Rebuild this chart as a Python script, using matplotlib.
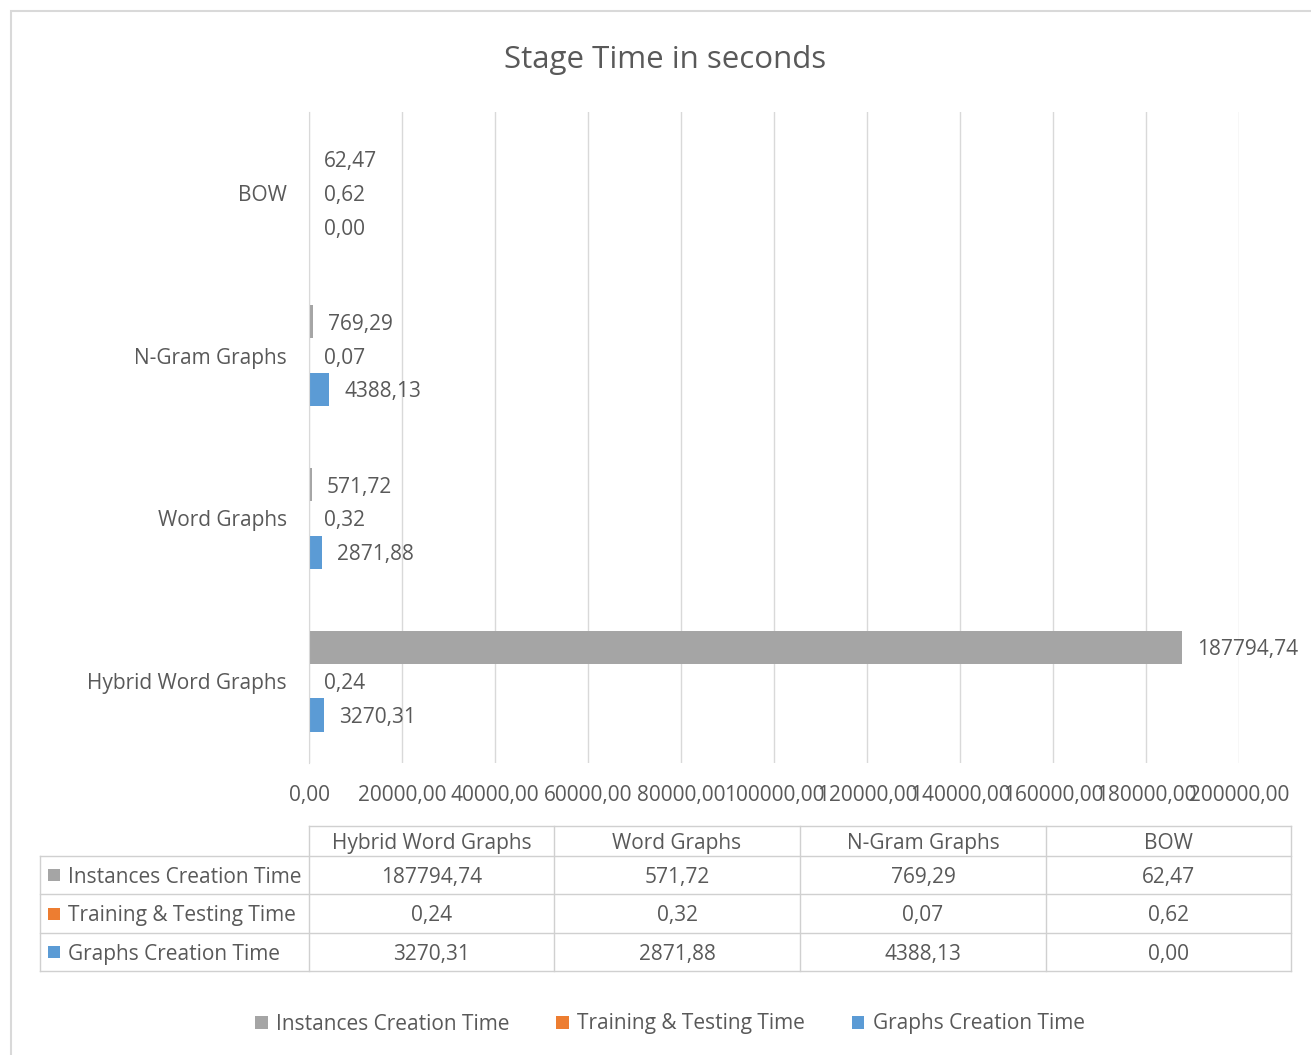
import matplotlib
matplotlib.use("Agg")
import matplotlib.pyplot as plt
from matplotlib.patches import Rectangle
from matplotlib.lines import Line2D
import numpy as np

plt.rcParams['font.family'] = ['Open Sans', 'DejaVu Sans']

# ---------------- data ----------------
categories = ["Hybrid Word Graphs", "Word Graphs", "N-Gram Graphs", "BOW"]
series_names = ["Instances Creation Time", "Training & Testing Time", "Graphs Creation Time"]
instances = [187794.74, 571.72, 769.29, 62.47]
training = [0.24, 0.32, 0.07, 0.62]
graphs = [3270.31, 2871.88, 4388.13, 0.00]
x_ticks = [0, 20000, 40000, 60000, 80000, 100000, 120000, 140000, 160000, 180000, 200000]
title = "Stage Time in seconds"

colors = ["#A5A5A5", "#ED7D31", "#5B9BD5"]
text_color = "#595959"
grid_color = "#D9D9D9"
FS = 15

W, H = 1311, 1055
fig = plt.figure(figsize=(W / 100, H / 100), dpi=100)


def fx(px):
    return px / W


def fy(py):
    return 1 - py / H


def fmt(v):
    return f"{v:.2f}".replace('.', ',')


# outer frame
fig.patches.append(Rectangle((fx(11), fy(1070)), fx(1320) - fx(11), fy(11) - fy(1070),
                             transform=fig.transFigure, fill=False,
                             edgecolor="#D9D9D9", lw=1.5, clip_on=False))

# title
fig.text(fx(665), fy(60), title, ha='center', va='center', fontsize=22.5, color=text_color)

# ---------------- bar chart ----------------
ax_l, ax_r, ax_t, ax_b = 309, 1239, 111.5, 762.5
ax = fig.add_axes([fx(ax_l), fy(ax_b), fx(ax_r) - fx(ax_l), fy(ax_t) - fy(ax_b)])

y = np.arange(len(categories))
off = 0.208
bh = 0.204
all_series = [instances, training, graphs]
offsets = [off, 0, -off]
for vals, o, c in zip(all_series, offsets, colors):
    ax.barh(y + o, vals, height=bh, color=c, edgecolor='none', zorder=3)
    for yy, v in zip(y + o, vals):
        ax.annotate(fmt(v), xy=(v, yy), xytext=(15, 0), textcoords='offset pixels',
                    ha='left', va='center_baseline', fontsize=FS, color=text_color, zorder=4)

ax.set_xlim(x_ticks[0], x_ticks[-1])
ax.set_ylim(-0.5, len(categories) - 0.5)
ax.set_xticks(x_ticks)
ax.set_xticklabels([fmt(t) for t in x_ticks])
ax.set_yticks(y)
ax.set_yticklabels(categories)
ax.tick_params(axis='both', length=0, labelsize=FS, colors=text_color)
ax.tick_params(axis='x', pad=16)
ax.tick_params(axis='y', pad=16)
for lab in ax.get_yticklabels():
    lab.set_verticalalignment('center_baseline')
ax.xaxis.grid(True, color=grid_color, lw=1, zorder=0)
for s in ['top', 'right', 'bottom']:
    ax.spines[s].set_visible(False)
ax.spines['left'].set_color(grid_color)
ax.spines['left'].set_zorder(5)
ax.set_facecolor('none')

# ---------------- data table ----------------
col_edges = [309, 554, 800, 1046, 1291]
row_edges = [826, 856, 894, 933, 971]
left_edge = 40
line_kw = dict(color="#D0D0D0", lw=1, transform=fig.transFigure)

fig.add_artist(Line2D([fx(col_edges[0]), fx(col_edges[-1])], [fy(row_edges[0])] * 2, **line_kw))
for r in row_edges[1:]:
    fig.add_artist(Line2D([fx(left_edge), fx(col_edges[-1])], [fy(r)] * 2, **line_kw))
for c in col_edges:
    fig.add_artist(Line2D([fx(c)] * 2, [fy(row_edges[0]), fy(row_edges[-1])], **line_kw))
fig.add_artist(Line2D([fx(left_edge)] * 2, [fy(row_edges[1]), fy(row_edges[-1])], **line_kw))

for j, cat in enumerate(categories):
    cx = (col_edges[j] + col_edges[j + 1]) / 2
    fig.text(fx(cx), fy((row_edges[0] + row_edges[1]) / 2), cat, ha='center', va='center_baseline',
             fontsize=FS, color=text_color)

for i, (name, vals, c) in enumerate(zip(series_names, all_series, colors)):
    cy = (row_edges[i + 1] + row_edges[i + 2]) / 2
    fig.patches.append(Rectangle((fx(48), fy(cy + 6)), fx(60) - fx(48), fy(cy - 6) - fy(cy + 6),
                                 transform=fig.transFigure, facecolor=c, edgecolor='none'))
    fig.text(fx(68), fy(cy), name, ha='left', va='center_baseline', fontsize=FS, color=text_color)
    for j, v in enumerate(vals):
        cx = (col_edges[j] + col_edges[j + 1]) / 2
        fig.text(fx(cx), fy(cy), fmt(v), ha='center', va='center_baseline', fontsize=FS, color=text_color)

# ---------------- legend ----------------
handles = [Rectangle((0, 0), 1, 1, facecolor=c, edgecolor='none') for c in colors]
fig.legend(handles, series_names, loc='center', bbox_to_anchor=(fx(670), fy(1024)),
           ncol=3, frameon=False, fontsize=FS, labelcolor=text_color,
           handlelength=0.6, handleheight=0.6, handletextpad=0.4, columnspacing=2.25)

fig.savefig("out.png", dpi=100)
